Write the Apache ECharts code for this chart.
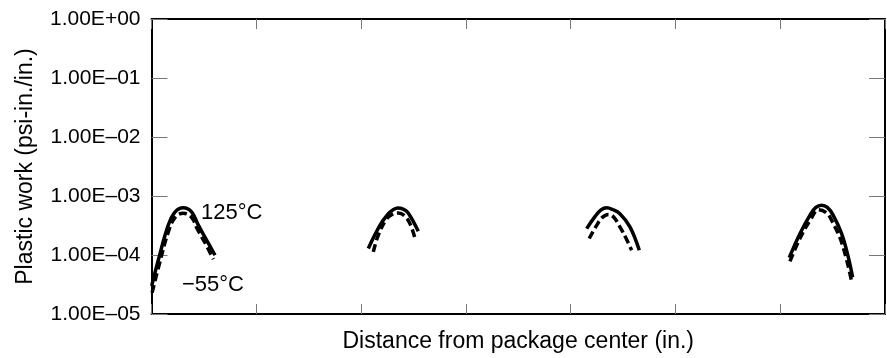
<!DOCTYPE html>
<html><head><meta charset="utf-8">
<script src="https://cdn.jsdelivr.net/npm/echarts@6/dist/echarts.min.js"></script>
<style>html,body{margin:0;padding:0;background:#fff}#c{width:887px;height:358px}</style>
</head><body><div id="c"></div>
<script>
const yTickLabels = ['1.00E\u201305','1.00E\u201304','1.00E\u201303','1.00E\u201302','1.00E\u201301','1.00E+00'];
const xName = 'Distance from package center (in.)';
const yName = 'Plastic work (psi-in./in.)';

const hotX1 = [0.002,0.065,0.16,0.224,0.303,0.384,0.447,0.527,0.606];
const hotY1 = [3.0e-5,8.2e-5,3.2e-4,5.35e-4,6.3e-4,5.35e-4,3.2e-4,1.78e-4,9.9e-5];
const coldX1 = [0.006,0.07,0.165,0.228,0.303,0.38,0.44,0.52,0.59];
const coldY1 = [2.3e-5,6.5e-5,2.6e-4,4.4e-4,5.1e-4,4.4e-4,2.7e-4,1.5e-4,8.5e-5];

const hotX2 = [2.069,2.18,2.26,2.31,2.352,2.40,2.448,2.546];
const hotY2 = [1.29e-4,3.18e-4,5.0e-4,5.9e-4,6.25e-4,6.0e-4,5.2e-4,2.52e-4];
const coldX2 = [2.117,2.164,2.244,2.30,2.355,2.41,2.467,2.515];
const coldY2 = [1.13e-4,2.16e-4,4.1e-4,4.9e-4,5.15e-4,4.7e-4,3.4e-4,1.9e-4];

const hotX3 = [4.153,4.232,4.29,4.344,4.40,4.47,4.566,4.655];
const hotY3 = [2.8e-4,4.46e-4,5.8e-4,6.3e-4,5.9e-4,5.0e-4,3.0e-4,1.2e-4];
const coldX3 = [4.177,4.248,4.30,4.359,4.41,4.47,4.53,4.582];
const coldY3 = [1.9e-4,3.18e-4,4.3e-4,4.88e-4,4.4e-4,3.0e-4,1.9e-4,1.2e-4];

const hotX4 = [6.086,6.188,6.283,6.34,6.395,6.45,6.506,6.586,6.649,6.691];
const hotY4 = [9e-5,2.3e-4,4.7e-4,6.4e-4,7.0e-4,6.4e-4,4.7e-4,2.3e-4,9.3e-5,4.2e-5];
const coldX4 = [6.093,6.188,6.283,6.368,6.44,6.493,6.59,6.681];
const coldY4 = [7.8e-5,1.9e-4,3.8e-4,5.85e-4,5.2e-4,3.8e-4,1.56e-4,3.6e-5];

const annoText = ['125\u00b0C', '\u221255\u00b0C'];
const annoX = [0.472, 0.291];
const annoY = [5.2e-4, 3.06e-5];

const FONT = 'Liberation Sans';
const zip = (xs, ys) => xs.map((x, i) => [x, ys[i]]);
const hot = [[hotX1,hotY1],[hotX2,hotY2],[hotX3,hotY3],[hotX4,hotY4]];
const cold = [[coldX1,coldY1],[coldX2,coldY2],[coldX3,coldY3],[coldX4,coldY4]];

const series = [];
cold.forEach(p => series.push({type:'line', data: zip(p[0], p[1]), smooth: 0.4, symbol:'none',
  lineStyle:{color:'#000', width:3.5, type:[8,4]}, silent:true}));
hot.forEach(p => series.push({type:'line', data: zip(p[0], p[1]), smooth: 0.4, symbol:'none',
  lineStyle:{color:'#000', width:3.5}, silent:true}));
series.push({type:'scatter', symbolSize:0, itemStyle:{opacity:1},
  data: annoText.map((t,i)=>({value:[annoX[i], annoY[i]], name:t})),
  label:{show:true, position:'right', distance:0, opacity:1, formatter: p => p.name, color:'#000', fontSize:22, fontFamily:FONT}, silent:true});

const xBase = {type:'value', min:0, max:7, interval:1,
  axisLine:{show:true, onZero:false, lineStyle:{color:'#000', width:2}},
  axisTick:{show:true, inside:true, length:10, lineStyle:{color:'#777', width:1}},
  axisLabel:{show:false}, splitLine:{show:false}};
const yBase = {type:'log', logBase:10, min:1e-5, max:1,
  axisLine:{show:true, onZero:false, lineStyle:{color:'#000', width:2}},
  axisTick:{show:true, inside:true, length:16, lineStyle:{color:'#777', width:1}},
  splitLine:{show:false}};

const chart = echarts.init(document.getElementById('c'), null, {renderer:'canvas'});
chart.setOption({
  animation:false,
  backgroundColor:'#fff',
  grid:{left:151.5, right:2, top:19, bottom:42.5},
  xAxis:[
    Object.assign({}, xBase, {position:'bottom', name:xName, nameLocation:'middle', nameGap:16,
      nameTextStyle:{color:'#000', fontSize:23, fontFamily:FONT}}),
    Object.assign({}, xBase, {position:'top'})
  ],
  yAxis:[
    Object.assign({}, yBase, {position:'left', name:yName, nameLocation:'middle', nameGap:114, nameRotate:90,
      nameTextStyle:{color:'#000', fontSize:23, fontFamily:FONT},
      axisLabel:{show:true, margin:11, color:'#000', fontSize:21, fontFamily:FONT,
        formatter: v => yTickLabels[Math.round(Math.log10(v)) + 5]}}),
    Object.assign({}, yBase, {position:'right', axisLabel:{show:false}})
  ],
  series: series
});
</script></body></html>
